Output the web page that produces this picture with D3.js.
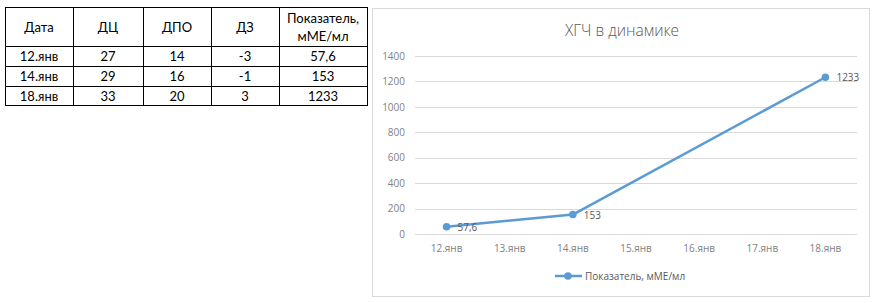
<!DOCTYPE html>
<html><head><meta charset="utf-8">
<script src="https://cdn.jsdelivr.net/npm/d3@7"></script>
<style>
html,body{margin:0;padding:0;background:#fff;}
svg{display:block;}
</style></head>
<body>
<svg id="c" width="880" height="303"></svg>
<script>
const headers = ["Дата", "ДЦ", "ДПО", "ДЗ", "Показатель,\nмМЕ/мл"];
const dates = ["12.янв", "14.янв", "18.янв"];
const dc = [27, 29, 33];
const dpo = [14, 16, 20];
const dz = [-3, -1, 3];
const hcgLabels = ["57,6", "153", "1233"];
const hcg = [57.6, 153, 1233];
const axisCategories = ["12.янв", "13.янв", "14.янв", "15.янв", "16.янв", "17.янв", "18.янв"];
const yTicks = [0, 200, 400, 600, 800, 1000, 1200, 1400];
const title = "ХГЧ в динамике";
const seriesName = "Показатель, мМЕ/мл";

const svg = d3.select("#c");
const font = "Lato, 'Open Sans', sans-serif";

// ---- Table ----
const colEdges = [5, 73, 143, 211, 279, 367];
const rowEdges = [7, 46, 66, 86, 105];
const rows = dates.map((d, i) => [d, dc[i], dpo[i], dz[i], hcgLabels[i]]);
const tbl = svg.append("g");
headers.forEach((h, j) => {
  const cx = (colEdges[j] + colEdges[j + 1]) / 2;
  const lines = h.split("\n");
  const cy = (rowEdges[0] + rowEdges[1]) / 2;
  lines.forEach((ln, k) => {
    tbl.append("text").attr("x", cx)
      .attr("y", cy + (k - (lines.length - 1) / 2) * 18 + 5)
      .attr("text-anchor", "middle").attr("font-family", font).attr("font-size", 13)
      .attr("fill", "#000").text(ln);
  });
});
rows.forEach((r, i) => {
  r.forEach((v, j) => {
    const cx = (colEdges[j] + colEdges[j + 1]) / 2;
    const cy = (rowEdges[i + 1] + rowEdges[i + 2]) / 2;
    tbl.append("text").attr("x", cx).attr("y", cy + 5)
      .attr("text-anchor", "middle").attr("font-family", font).attr("font-size", 13)
      .attr("fill", "#000").text(v);
  });
});
colEdges.forEach(x => tbl.append("line").attr("x1", x + 0.5).attr("x2", x + 0.5)
  .attr("y1", rowEdges[0]).attr("y2", rowEdges[rowEdges.length - 1] + 1).attr("stroke", "#000"));
rowEdges.forEach(y => tbl.append("line").attr("y1", y + 0.5).attr("y2", y + 0.5)
  .attr("x1", colEdges[0]).attr("x2", colEdges[colEdges.length - 1] + 1).attr("stroke", "#000"));

// ---- Chart ----
svg.append("rect").attr("x", 372.5).attr("y", 8.5).attr("width", 497).attr("height", 288)
  .attr("fill", "#fff").attr("stroke", "#d9d9d9");

svg.append("text").attr("x", 622).attr("y", 36).attr("text-anchor", "middle")
  .attr("font-family", "'Open Sans', sans-serif").attr("font-size", 15.5).attr("font-weight", 300)
  .attr("fill", "#595959").text(title);

const x = d3.scaleBand().domain(axisCategories).range([415, 857]);
const y = d3.scaleLinear().domain([0, 1400]).range([234, 56]);

const gGrid = svg.append("g");
yTicks.forEach(t => {
  gGrid.append("line").attr("x1", 415).attr("x2", 857)
    .attr("y1", Math.round(y(t)) + 0.5).attr("y2", Math.round(y(t)) + 0.5)
    .attr("stroke", "#d9d9d9").attr("stroke-width", 1);
});

const yAxis = svg.append("g").attr("transform", "translate(415,0)")
  .call(d3.axisLeft(y).tickValues(yTicks).tickFormat(d3.format("d")).tickSize(0).tickPadding(10));
yAxis.select(".domain").remove();
yAxis.selectAll("text").attr("font-family", "'Open Sans', sans-serif").attr("font-size", 10).attr("fill", "#7f7f7f");

const xAxis = svg.append("g").attr("transform", "translate(0,234)")
  .call(d3.axisBottom(x).tickSize(0).tickPadding(11));
xAxis.select(".domain").remove();
xAxis.selectAll("text").attr("font-family", "'Open Sans', sans-serif").attr("font-size", 10).attr("fill", "#7f7f7f");

const pts = dates.map((d, i) => ({ cat: d, v: hcg[i], lab: hcgLabels[i] }));
const cx = d => x(d.cat) + x.bandwidth() / 2;
const line = d3.line().x(cx).y(d => y(d.v));
svg.append("path").datum(pts).attr("d", line).attr("fill", "none")
  .attr("stroke", "#5b9bd5").attr("stroke-width", 2.5).attr("stroke-linejoin", "round");
svg.selectAll("circle.pt").data(pts).enter().append("circle")
  .attr("cx", cx).attr("cy", d => y(d.v)).attr("r", 3.8).attr("fill", "#5b9bd5");
svg.selectAll("text.lab").data(pts).enter().append("text")
  .attr("x", d => cx(d) + 11).attr("y", d => y(d.v) + 4)
  .attr("font-family", "'Open Sans', sans-serif").attr("font-size", 10).attr("fill", "#595959")
  .text(d => d.lab);

const lg = svg.append("g");
lg.append("line").attr("x1", 555).attr("x2", 582).attr("y1", 276).attr("y2", 276)
  .attr("stroke", "#5b9bd5").attr("stroke-width", 2.5);
lg.append("circle").attr("cx", 568).attr("cy", 276).attr("r", 3.8).attr("fill", "#5b9bd5");
lg.append("text").attr("x", 585).attr("y", 280).attr("font-family", "'Open Sans', sans-serif")
  .attr("font-size", 10).attr("fill", "#595959").text(seriesName);
</script>
</body></html>
